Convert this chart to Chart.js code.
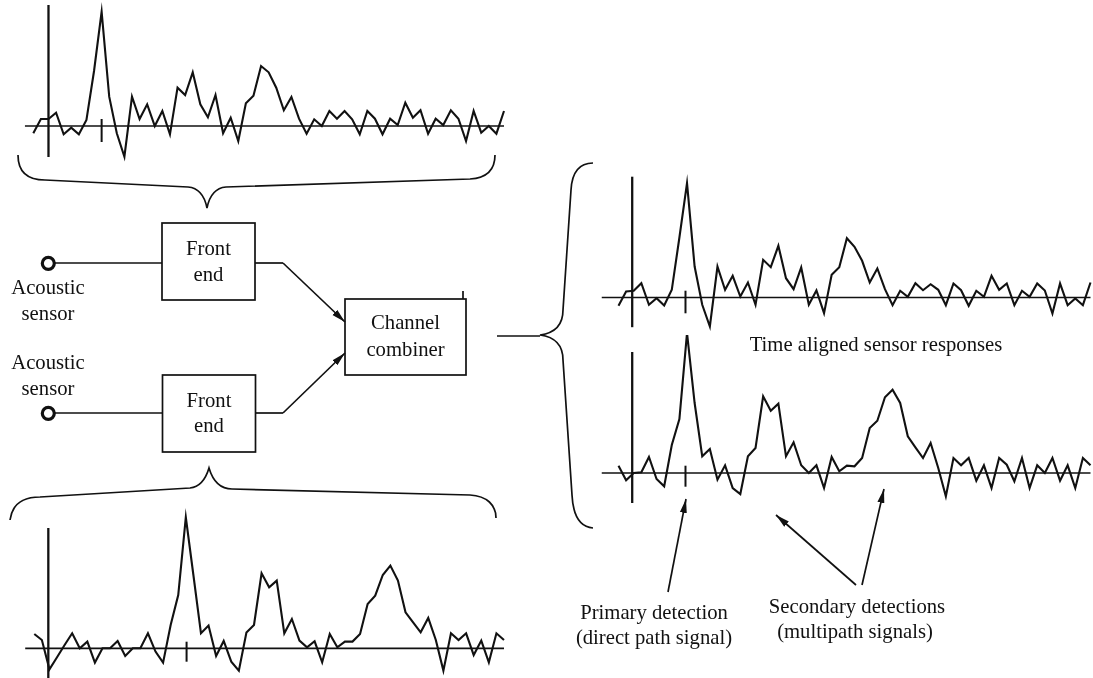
<!DOCTYPE html>
<html>
<head>
<meta charset="utf-8">
<title>Multipath detection</title>
<script src="https://cdn.jsdelivr.net/npm/chart.js@4.4.0/dist/chart.umd.min.js"></script>
<style>
  html, body { margin: 0; padding: 0; background: #fff; }
  #stage { position: relative; width: 1093px; height: 678px; overflow: hidden; }
  .wave { position: absolute; }
  #overlay { position: absolute; left: 0; top: 0; pointer-events: none; }
  #overlay text { font-family: 'Liberation Serif', 'Times New Roman', serif; font-size: 20.7px; fill: #111; }
</style>
</head>
<body>
<div id="stage">
  <canvas id="wave-tl" class="wave"></canvas>
  <canvas id="wave-bl" class="wave"></canvas>
  <canvas id="wave-rt" class="wave"></canvas>
  <canvas id="wave-rb" class="wave"></canvas>

  <svg id="overlay" width="1093" height="678" viewBox="0 0 1093 678">
    <defs>
      <marker id="head" viewBox="0 0 14 8" refX="14" refY="4" markerWidth="14" markerHeight="8"
              markerUnits="userSpaceOnUse" orient="auto">
        <path d="M0,0.5 L14,4 L0,7.5 z" fill="#111"/>
      </marker>
    </defs>
    <g fill="none" stroke="#111" stroke-width="1.7">
      <!-- braces -->
      <path d="M18,155 C18,172 28,180 45,180 L188,187 C200,188 205,198 207,208 C209,198 214,188 226,187 L470,179 C487,178 495,170 495,155"/>
      <path d="M10,520 C12,505 22,497 40,497 L190,488 C200,487 206,478 209,468 C212,478 218,489 232,489 L470,495 C487,496 496,505 496,518"/>
      <path d="M593,163 C580,163 572,172 571,190 L563,310 C563,325 555,333 540,335 C555,337 563,345 563,360 L572,495 C573,515 580,527 593,528"/>
      <line x1="497" y1="336" x2="540" y2="336"/>

      <!-- sensors and wiring -->
      <line x1="55" y1="263" x2="162" y2="263"/>
      <line x1="55" y1="413" x2="162" y2="413"/>
      <rect x="162" y="223" width="93" height="77"/>
      <rect x="162.5" y="375" width="93" height="77"/>
      <rect x="345" y="299" width="121" height="76"/>
      <line x1="463" y1="291" x2="463" y2="299"/>
      <polyline points="255,263 283,263"/>
      <polyline points="255.5,413 283,413"/>
      <line x1="283" y1="263" x2="345" y2="322" marker-end="url(#head)"/>
      <line x1="283" y1="413" x2="345" y2="353" marker-end="url(#head)"/>

      <!-- annotation arrows -->
      <line x1="668" y1="592" x2="686" y2="499" marker-end="url(#head)"/>
      <line x1="856" y1="585" x2="776" y2="515" marker-end="url(#head)"/>
      <line x1="862" y1="585" x2="884" y2="489" marker-end="url(#head)"/>
    </g>
    <circle cx="48.3" cy="263.3" r="6" fill="#fff" stroke="#111" stroke-width="3.2"/>
    <circle cx="48.3" cy="413.3" r="6" fill="#fff" stroke="#111" stroke-width="3.2"/>

    <g text-anchor="middle" dominant-baseline="central">
      <text x="48" y="287">Acoustic</text>
      <text x="48" y="313">sensor</text>
      <text x="48" y="362">Acoustic</text>
      <text x="48" y="388">sensor</text>
      <text x="208.5" y="248">Front</text>
      <text x="208.5" y="274">end</text>
      <text x="209" y="400">Front</text>
      <text x="209" y="425">end</text>
      <text x="405.5" y="322">Channel</text>
      <text x="405.5" y="349">combiner</text>
      <text x="876" y="344">Time aligned sensor responses</text>
      <text x="654" y="612">Primary detection</text>
      <text x="654" y="637">(direct path signal)</text>
      <text x="857" y="606">Secondary detections</text>
      <text x="855" y="631">(multipath signals)</text>
    </g>
  </svg>
</div>

<script>
// --- DATA (height above the zero line) ---
const sampleIndex = [
  0, 1, 2, 3, 4, 5, 6, 7, 8, 9, 10, 11, 12, 13, 14, 15, 16, 17, 18, 19, 20,
  21, 22, 23, 24, 25, 26, 27, 28, 29, 30, 31, 32, 33, 34, 35, 36, 37, 38, 39, 40,
  41, 42, 43, 44, 45, 46, 47, 48, 49, 50, 51, 52, 53, 54, 55, 56, 57, 58, 59, 60,
  61, 62
];

// sensor 1, raw response (top left)
const sensor1Raw = [
  -7.3, 7, 7, 13.3, -8.3, -1.7, -8.3, 6, 55, 114.3,
  29.3, -7.3, -30.7, 29.3, 7, 21.7, 0, 15, -8.3, 38.3,
  31, 53.7, 21.7, 8.7, 31, -7.3, 8.3, -15, 22.7, 30.3,
  60, 53.7, 38.3, 15.7, 29, 7.3, -7.7, 6.7, 0, 15,
  7.3, 15, 6.7, -8.3, 15, 7.3, -8.3, 7.3, 1, 23.3,
  8.3, 15.7, -7.7, 7.3, 1, 15.7, 7.3, -15, 15, -6.7,
  0, -7.7, 15
];

// sensor 2, raw response (bottom left)
const sensor2Raw = [
  14.3, 8.3, -21, -9, 3.3, 15, 0, 6.7, -14.3, 0,
  0, 7.3, -7.7, 0, 0, 15, -3.3, -14.3, 23.3, 53.3,
  131, 73.3, 15, 22.7, -7.7, 7.3, -13.3, -22.3, 15.7, 23.3,
  75, 61, 67.7, 15, 29.3, 7.7, 1, 7, -14, 14.3,
  1, 6.7, 6.7, 14.3, 44.3, 52.7, 73.3, 82.7, 67.7, 36,
  26, 16, 30.3, 8.3, -22.3, 15, 8.3, 15, -6.7, 7.7,
  -14, 15, 8.3
];

// time aligned responses (right)
const sensor1Aligned = [
  -8.3, 6, 6.7, 14.3, -7.3, -0.7, -8, 7.7, 60, 114.3,
  31, -7.3, -29, 31, 7.7, 21.7, 1, 15, -7.3, 37.7,
  30.3, 51.7, 19.3, 8.3, 30, -7.3, 7, -15.7, 22.7, 30.3,
  59.3, 50.7, 36.7, 15, 29, 8.3, -7.7, 6.7, 0.7, 14.3,
  7.3, 13.3, 7.7, -7.7, 14, 7.3, -8.3, 6.7, 0.7, 21.7,
  7.7, 14, -7.7, 6.7, 0.7, 14, 7, -16, 14, -7.7,
  -1, -7.7, 15
];

const sensor2Aligned = [
  7.3, -7.3, 0, 0.7, 16, -6, -13.3, 28, 54, 140,
  70, 16.7, 24, -6.7, 7.7, -15, -21, 16.7, 25, 76.7,
  62.3, 69.3, 16.7, 30.7, 7.7, 0, 7.7, -15, 16, 1.7,
  7.3, 6.7, 15, 45, 52.3, 75.7, 83.3, 70, 36.7, 25.7,
  15, 30, 5, -23.3, 15, 7.7, 15, -7.7, 7.7, -15,
  15, 8.3, -8.3, 15, -15, 7.7, 0, 15, -7.7, 7.7,
  -15, 15, 7.7
];

// --- PANELS (where each trace sits on the page) ---
const panels = [
  { id: 'wave-tl', values: sensor1Raw, left: 0, top: 0, width: 520, height: 175,
    firstX: 33.3, lastX: 504, zeroY: 126,
    baseFrom: -1.1, axis: { at: 2, from: 121, to: -31 }, mark: { at: 9, from: 7, to: -16 } },
  { id: 'wave-bl', values: sensor2Raw, left: 0, top: 500, width: 520, height: 178,
    firstX: 34.3, lastX: 504, zeroY: 648.3,
    baseFrom: -1.2, axis: { at: 1.85, from: 120.3, to: -31 }, mark: { at: 20.1, from: 6.6, to: -13.4 } },
  { id: 'wave-rt', values: sensor1Aligned, left: 590, top: 160, width: 503, height: 175,
    firstX: 618.5, lastX: 1090.5, zeroY: 297.5,
    baseFrom: -2.2, axis: { at: 1.8, from: 120.8, to: -29.7 }, mark: { at: 8.8, from: 6.8, to: -15.8 } },
  { id: 'wave-rb', values: sensor2Aligned, left: 590, top: 335, width: 503, height: 175,
    firstX: 618.5, lastX: 1090.5, zeroY: 473,
    baseFrom: -2.2, axis: { at: 1.8, from: 121, to: -30 }, mark: { at: 8.8, from: 7.3, to: -13.7 } }
];

// zero line, time axis and the detection mark, drawn through the chart's own scales
const waveAxes = {
  id: 'waveAxes',
  beforeDatasetsDraw(chart, args, opts) {
    const ctx = chart.ctx;
    const x = chart.scales.x;
    const y = chart.scales.y;
    const seg = (x1, v1, x2, v2, w) => {
      ctx.lineWidth = w;
      ctx.beginPath();
      ctx.moveTo(x.getPixelForValue(x1), y.getPixelForValue(v1));
      ctx.lineTo(x.getPixelForValue(x2), y.getPixelForValue(v2));
      ctx.stroke();
    };
    ctx.save();
    ctx.strokeStyle = '#111';
    seg(opts.baseFrom, 0, sampleIndex[sampleIndex.length - 1], 0, 1.7);
    seg(opts.axis.at, opts.axis.from, opts.axis.at, opts.axis.to, 2.3);
    seg(opts.mark.at, opts.mark.from, opts.mark.at, opts.mark.to, 2);
    ctx.restore();
  }
};

function makeWave(p) {
  const canvas = document.getElementById(p.id);
  canvas.width = p.width;
  canvas.height = p.height;
  canvas.style.left = p.left + 'px';
  canvas.style.top = p.top + 'px';
  canvas.style.width = p.width + 'px';
  canvas.style.height = p.height + 'px';

  return new Chart(canvas.getContext('2d'), {
    type: 'line',
    data: {
      labels: sampleIndex,
      datasets: [{
        data: p.values,
        borderColor: '#111',
        borderWidth: 2.1,
        pointRadius: 0,
        tension: 0,
        fill: false,
        clip: false,
        borderJoinStyle: 'miter'
      }]
    },
    options: {
      responsive: false,
      devicePixelRatio: 1,
      animation: false,
      events: [],
      layout: {
        padding: {
          left: p.firstX - p.left,
          right: p.left + p.width - p.lastX,
          top: 0,
          bottom: 0
        }
      },
      scales: {
        x: { type: 'linear', display: false, min: sampleIndex[0], max: sampleIndex[sampleIndex.length - 1] },
        y: { display: false, min: -(p.top + p.height - p.zeroY), max: p.zeroY - p.top }
      },
      plugins: {
        legend: { display: false },
        tooltip: { enabled: false },
        waveAxes: { baseFrom: p.baseFrom, axis: p.axis, mark: p.mark }
      }
    },
    plugins: [waveAxes]
  });
}

panels.forEach(makeWave);
</script>
</body>
</html>
